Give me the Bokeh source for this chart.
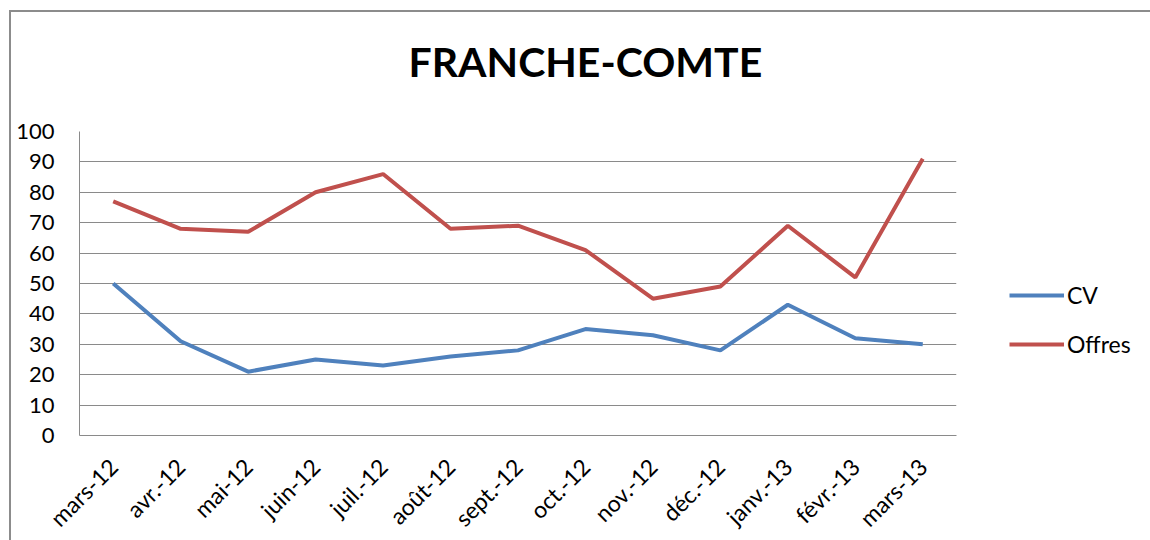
import math
from bokeh.plotting import figure
from bokeh.models import FactorRange, Range1d, Legend, LegendItem, Title, SingleIntervalTicker
from bokeh.embed import file_html
from bokeh.resources import INLINE

months = ["mars-12", "avr.-12", "mai-12", "juin-12", "juil.-12", "août-12", "sept.-12",
          "oct.-12", "nov.-12", "déc.-12", "janv.-13", "févr.-13", "mars-13"]
cv = [50, 31, 21, 25, 23, 26, 28, 35, 33, 28, 43, 32, 30]
offres = [77, 68, 67, 80, 86, 68, 69, 61, 45, 49, 69, 52, 91]
title_text = "FRANCHE-COMTE"

FONT = "Lato"
GRID = "#8a8a8a"

p = figure(frame_width=877, frame_height=304, output_backend="svg", toolbar_location=None,
           x_range=FactorRange(*months, range_padding=0),
           y_range=Range1d(0, 100),
           min_border_left=68, min_border_right=190, min_border_top=119, min_border_bottom=98)
p.styles = {"border-left": "2px solid #8c8c8c", "border-top": "2px solid #8c8c8c",
            "margin-left": "9px", "margin-top": "10px"}
p.title = None
spacer = Title(text=" ", text_font=FONT, text_font_size="10px", standoff=10)
p.add_layout(spacer, "above")
t = Title(text=title_text, align="left", text_font=FONT, text_font_size="41px",
          text_font_style="bold", text_color="#000000", offset=329, standoff=44)
p.add_layout(t, "above")

p.outline_line_color = None
p.background_fill_color = "white"
p.border_fill_color = "white"

p.xgrid.grid_line_color = None
p.ygrid.grid_line_color = GRID
p.ygrid.grid_line_width = 1
p.yaxis.ticker = SingleIntervalTicker(interval=10)

for ax in (p.xaxis[0], p.yaxis[0]):
    ax.axis_line_color = GRID
    ax.axis_line_width = 1
    ax.major_tick_line_color = None
    ax.minor_tick_line_color = None
    ax.major_tick_out = 0
    ax.major_tick_in = 0
    ax.major_label_text_font = FONT
    ax.major_label_text_font_size = "22px"
    ax.major_label_text_color = "#000000"

p.yaxis.major_label_standoff = 21
p.xaxis.major_label_orientation = math.pi / 4
p.xaxis.major_label_standoff = 27
p.xaxis.major_label_text_font_size = "23px"

r_cv = p.line(months, cv, line_color="#4F81BD", line_width=4)
r_of = p.line(months, offres, line_color="#C0504D", line_width=4)

legend = Legend(items=[LegendItem(label="CV", renderers=[r_cv]),
                       LegendItem(label="Offres", renderers=[r_of])],
                location=(53, 77), orientation="vertical",
                glyph_width=55, glyph_height=20, label_height=20, spacing=21,
                label_standoff=3, padding=0, margin=0,
                border_line_color=None, background_fill_alpha=0,
                label_text_font=FONT, label_text_font_size="23px", label_text_color="#000000")
p.add_layout(legend, "right")

open("out.html", "w").write(file_html(p, INLINE))
